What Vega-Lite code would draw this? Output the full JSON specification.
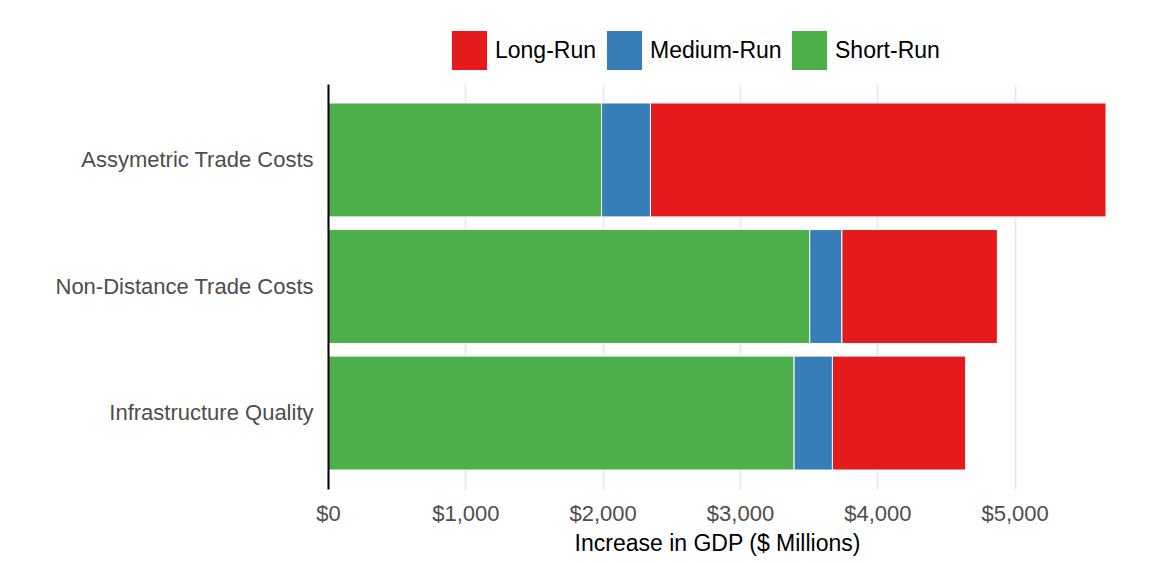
{
  "$schema": "https://vega.github.io/schema/vega-lite/v6.json",
  "width": 778,
  "height": 405,
  "autosize": {"type": "none"},
  "padding": {"left": 328, "top": 84, "right": 66, "bottom": 74},
  "background": "white",
  "config": {"font": "Liberation Sans", "view": {"stroke": null}},
  "data": {
    "values": [
      {"policy": "Assymetric Trade Costs", "horizon": "Short-Run", "gdp": 1992},
      {"policy": "Assymetric Trade Costs", "horizon": "Medium-Run", "gdp": 356},
      {"policy": "Assymetric Trade Costs", "horizon": "Long-Run", "gdp": 3317},
      {"policy": "Non-Distance Trade Costs", "horizon": "Short-Run", "gdp": 3508},
      {"policy": "Non-Distance Trade Costs", "horizon": "Medium-Run", "gdp": 234},
      {"policy": "Non-Distance Trade Costs", "horizon": "Long-Run", "gdp": 1132},
      {"policy": "Infrastructure Quality", "horizon": "Short-Run", "gdp": 3394},
      {"policy": "Infrastructure Quality", "horizon": "Medium-Run", "gdp": 279},
      {"policy": "Infrastructure Quality", "horizon": "Long-Run", "gdp": 970}
    ]
  },
  "mark": {"type": "bar", "stroke": "white", "strokeWidth": 1},
  "encoding": {
    "y": {
      "field": "policy",
      "type": "nominal",
      "sort": ["Assymetric Trade Costs", "Non-Distance Trade Costs", "Infrastructure Quality"],
      "scale": {"paddingInner": 0.1, "paddingOuter": 0.15},
      "axis": {
        "title": null,
        "ticks": false,
        "domain": true,
        "domainColor": "black",
        "domainWidth": 2,
        "grid": false,
        "zindex": 1,
        "labelFontSize": 22,
        "labelColor": "#4D4D4D",
        "labelPadding": 15,
        "labelLimit": 0
      }
    },
    "x": {
      "field": "gdp",
      "type": "quantitative",
      "stack": "zero",
      "scale": {"domain": [0, 5665], "nice": false},
      "axis": {
        "title": "Increase in GDP ($ Millions)",
        "values": [0, 1000, 2000, 3000, 4000, 5000],
        "format": "$,.0f",
        "grid": true,
        "gridColor": "#EBEBEB",
        "gridWidth": 2,
        "domain": false,
        "ticks": false,
        "tickSize": 0,
        "labelFlush": false,
        "labelFontSize": 22,
        "labelColor": "#4D4D4D",
        "labelPadding": 14,
        "titleFontSize": 23,
        "titleFontWeight": "normal",
        "titleColor": "black",
        "titlePadding": 8
      }
    },
    "color": {
      "field": "horizon",
      "type": "nominal",
      "scale": {
        "domain": ["Long-Run", "Medium-Run", "Short-Run"],
        "range": ["#E41A1C", "#377EB8", "#4DAF4A"]
      },
      "legend": {
        "title": null,
        "orient": "none",
        "direction": "horizontal",
        "legendX": 122,
        "legendY": -53,
        "symbolType": "M-0.9,-1H0.9V1H-0.9Z",
        "symbolSize": 1521,
        "symbolStrokeWidth": 0,
        "symbolOpacity": 1,
        "labelFontSize": 23,
        "labelColor": "black",
        "labelOffset": 6,
        "columnPadding": 8,
        "padding": 0
      }
    },
    "order": {"field": "horizon", "sort": "descending"}
  }
}
